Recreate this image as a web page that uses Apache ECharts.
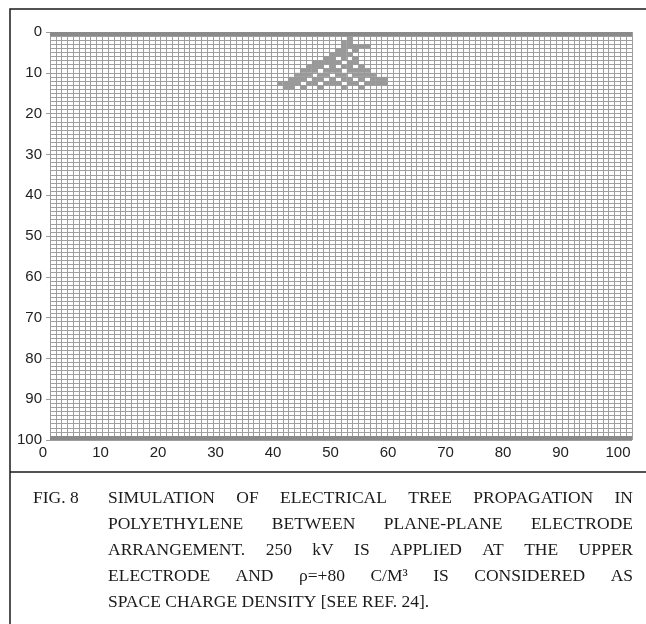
<!DOCTYPE html>
<html><head><meta charset="utf-8">
<script src="https://cdn.jsdelivr.net/npm/echarts@6/dist/echarts.min.js"></script>
<style>html,body{margin:0;padding:0;background:#fff}#c{width:646px;height:624px}</style>
</head><body><div id="c"></div>
<script>
// ---- data ----
const tickLabels = [0, 10, 20, 30, 40, 50, 60, 70, 80, 90, 100];
const electrodeY = [0, 100];           // upper and lower plane electrodes
const treeRows = [1, 2, 3, 4, 5, 6, 7, 8, 9, 10, 11, 12, 13];
const treeCols = [
  [51],
  [50, 51],
  [50, 51, 52, 53, 54],
  [49, 50, 52],
  [48, 49, 50, 51],
  [47, 48, 50, 52],
  [45, 46, 47, 48, 49, 51, 52],
  [44, 45, 46, 48, 50, 51, 53],
  [43, 44, 45, 47, 48, 49, 51, 52, 53, 54],
  [42, 43, 44, 46, 47, 49, 50, 52, 53, 54, 55],
  [41, 42, 43, 45, 46, 48, 50, 51, 53, 55, 56, 57],
  [39, 40, 41, 42, 44, 45, 47, 48, 49, 51, 52, 54, 55, 56, 57],
  [40, 41, 43, 46, 50, 53]
];
const captionHead = 'FIG. 8';
const captionLines = [
  'SIMULATION OF ELECTRICAL TREE PROPAGATION IN',
  'POLYETHYLENE BETWEEN PLANE-PLANE ELECTRODE',
  'ARRANGEMENT. 250 kV IS APPLIED AT THE UPPER',
  'ELECTRODE AND \u03C1=+80 C/M\u00B3 IS CONSIDERED AS',
  'SPACE CHARGE DENSITY [SEE REF. 24].'
];

// ---- build ----
const treeData = [];
treeRows.forEach((r, i) => treeCols[i].forEach(c => treeData.push([c, r])));
const electrodeData = electrodeY.map(y => [0, y]);

const GRID_COLOR = '#9e9e9e';
const CELL_COLOR = '#999999';
const LABEL_FONT = '"Liberation Sans", Arial, sans-serif';

const chart = echarts.init(document.getElementById('c'), null, {renderer: 'canvas'});

// caption layout (justified text)
const capFont = '17.5px "Liberation Serif"';
const cv = document.createElement('canvas').getContext('2d');
cv.font = capFont;
const capLeft = 108, capRight = 633, capTop = 498, capStep = 26;
const graphics = [];
graphics.push({type: 'rect', shape: {x: 10, y: 9, width: 700, height: 700},
  style: {fill: 'none', stroke: '#1a1a1a', lineWidth: 1.5}, z: 100});
graphics.push({type: 'line', shape: {x1: 10, y1: 472, x2: 646, y2: 472},
  style: {stroke: '#1a1a1a', lineWidth: 1.5}, z: 100});
graphics.push({type: 'text', x: 33, y: capTop,
  style: {text: captionHead, font: capFont, fill: '#1a1a1a', textVerticalAlign: 'middle'}, z: 100});
captionLines.forEach((line, li) => {
  const y = capTop + li * capStep;
  const words = line.split(' ');
  const widths = words.map(w => cv.measureText(w).width);
  const total = widths.reduce((a, b) => a + b, 0);
  const last = li === captionLines.length - 1;
  const gap = last ? cv.measureText(' ').width : (capRight - capLeft - total) / (words.length - 1);
  let x = capLeft;
  words.forEach((w, wi) => {
    graphics.push({type: 'text', x: x, y: y,
      style: {text: w, font: capFont, fill: '#1a1a1a', textVerticalAlign: 'middle'}, z: 100});
    x += widths[wi] + gap;
  });
});

const labelFmt = v => (tickLabels.indexOf(v) >= 0 ? String(v) : '');

const option = {
  animation: false,
  backgroundColor: '#ffffff',
  grid: [
    {left: 50, top: 32, width: 582, height: 408, containLabel: false, outerBoundsMode: 'none'},
    {left: 43, top: 32, width: 575, height: 408, containLabel: false, outerBoundsMode: 'none'}
  ],
  xAxis: [
    {type: 'value', gridIndex: 0, min: 0, max: 100, interval: 1, position: 'bottom',
      axisLabel: {show: false}, axisTick: {show: false}, axisLine: {show: false},
      splitLine: {show: true, lineStyle: {color: GRID_COLOR, width: 1}}},
    {type: 'value', gridIndex: 1, min: 0, max: 100, interval: 10, position: 'bottom',
      axisLabel: {show: true, formatter: labelFmt, fontSize: 15, color: '#222',
        fontFamily: LABEL_FONT, margin: 5},
      axisTick: {show: false}, axisLine: {show: false}, splitLine: {show: false}}
  ],
  yAxis: [
    {type: 'value', gridIndex: 0, min: 0, max: 100, interval: 1, inverse: true,
      axisLabel: {show: false}, axisTick: {show: false}, axisLine: {show: false},
      splitLine: {show: true, lineStyle: {color: GRID_COLOR, width: 1}}},
    {type: 'value', gridIndex: 0, min: 0, max: 100, interval: 10, inverse: true, position: 'left',
      axisLabel: {show: true, formatter: labelFmt, fontSize: 15, color: '#222',
        fontFamily: LABEL_FONT, margin: 8},
      axisTick: {show: true, length: 4, lineStyle: {color: '#9e9e9e'}},
      axisLine: {show: false}, splitLine: {show: false}},
    {type: 'value', gridIndex: 1, min: 0, max: 100, inverse: true, show: false}
  ],
  series: [
    {type: 'custom', xAxisIndex: 0, yAxisIndex: 0, data: treeData,
      renderItem: (params, api) => {
        const x = api.value(0), y = api.value(1);
        const p0 = api.coord([x, y]), p1 = api.coord([x + 1, y + 1]);
        return {type: 'rect',
          shape: {x: Math.min(p0[0], p1[0]), y: Math.min(p0[1], p1[1]),
            width: Math.abs(p1[0] - p0[0]), height: Math.abs(p1[1] - p0[1])},
          style: {fill: CELL_COLOR}};
      }},
    {type: 'custom', xAxisIndex: 0, yAxisIndex: 0, data: electrodeData, z: 5,
      renderItem: (params, api) => {
        const y = api.value(1);
        const a = api.coord([0, y]), b = api.coord([100, y]);
        const h = 4;
        const top = y === 0 ? a[1] : a[1] - h;
        return {type: 'rect', shape: {x: a[0], y: top, width: b[0] - a[0], height: h},
          style: {fill: '#8a8a8a'}};
      }}
  ],
  graphic: graphics
};
chart.setOption(option);
</script>
</body></html>
